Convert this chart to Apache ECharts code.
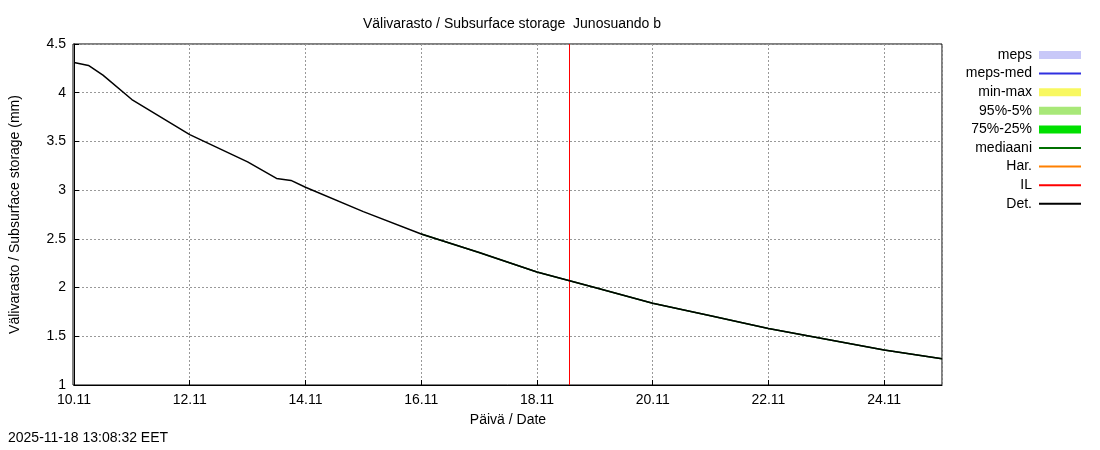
<!DOCTYPE html>
<html><head><meta charset="utf-8">
<script src="https://cdn.jsdelivr.net/npm/echarts@6/dist/echarts.min.js"></script>
<style>html,body{margin:0;background:#fff}#c{width:1100px;height:450px}</style>
</head><body><div id="c"></div>
<script>
const dates = ["2025-11-10 00:00","2025-11-10 06:00","2025-11-10 12:00","2025-11-11 00:00","2025-11-12 00:00","2025-11-13 00:00","2025-11-13 12:00","2025-11-13 18:00","2025-11-14 00:00","2025-11-15 00:00","2025-11-16 00:00","2025-11-17 00:00","2025-11-18 00:00","2025-11-19 00:00","2025-11-20 00:00","2025-11-21 00:00","2025-11-22 00:00","2025-11-23 00:00","2025-11-24 00:00","2025-11-25 00:00"];
const values = [4.31,4.28,4.18,3.93,3.57,3.29,3.12,3.10,3.03,2.78,2.55,2.36,2.16,2.00,1.84,1.71,1.58,1.47,1.36,1.27];
const medianDates = dates.slice(10);
const medianValues = values.slice(10);
const nowLine = "2025-11-18 13:08";
const xTickLabels = ["10.11","12.11","14.11","16.11","18.11","20.11","22.11","24.11"];
const yTicks = {min:1, max:4.5, interval:0.5};
const legendItems = [
 {name:'meps', color:'#c8c8f8', w:8},
 {name:'meps-med', color:'#3030e0', w:1.5},
 {name:'min-max', color:'#f8f860', w:8},
 {name:'95%-5%', color:'#a8e878', w:8},
 {name:'75%-25%', color:'#00e000', w:8},
 {name:'mediaani', color:'#007000', w:1.5},
 {name:'Har.', color:'#ff8000', w:1.5},
 {name:'IL', color:'#ff0000', w:1.5},
 {name:'Det.', color:'#000000', w:1.5}
];
function dayOffset(s){ // days since 2025-11-10 00:00
  const m = s.match(/\d+-\d+-(\d+) (\d+):(\d+)/);
  return (+m[1]-10) + (+m[2])/24 + (+m[3])/1440;
}
const ch = echarts.init(document.getElementById('c'));
const font = 'Liberation Sans';
const series = legendItems.map(it => ({name:it.name, type:'line', data:[], symbol:'none', lineStyle:{color:it.color,width:it.w}, itemStyle:{color:it.color}}));
series.find(s=>s.name==='mediaani').data = medianDates.map((d,i)=>[dayOffset(d),medianValues[i]]);
const det = series.find(s=>s.name==='Det.');
det.data = dates.map((d,i)=>[dayOffset(d),values[i]]);
det.z = 5;
det.markLine = {symbol:'none', silent:true, label:{show:false}, lineStyle:{color:'#ff0000',width:1,type:'solid'}, data:[{xAxis:dayOffset(nowLine)}]};
ch.setOption({
 animation:false,
 textStyle:{fontFamily:font},
 title:{text:'Välivarasto / Subsurface storage  Junosuando b', left:507, top:12, textAlign:'center', textStyle:{fontSize:14,fontWeight:'normal',fontFamily:font,color:'#000'}},
 grid:{left:73,right:158,top:44,bottom:65},
 legend:{orient:'vertical', right:14, top:43, itemGap:4.6, itemWidth:42, itemHeight:8, align:'right', textStyle:{fontSize:14,fontFamily:font,color:'#000', padding:[0,2,0,0]},
   data:legendItems.map(it=>({name:it.name, icon: it.w>2?'rect':'path://M0,0H42V2H0Z'}))},
 xAxis:{type:'value', min:0, max:15, interval:2,
   axisLine:{lineStyle:{color:'#000'}}, axisTick:{inside:true,lineStyle:{color:'#000'}},
   axisLabel:{fontSize:14,color:'#000',fontFamily:font, showMaxLabel:false, formatter:v=>xTickLabels[v/2]||''},
   splitLine:{show:true,lineStyle:{color:'#999',type:[2,2]}},
   name:'Päivä / Date', nameLocation:'middle', nameGap:28, nameTextStyle:{fontSize:14,color:'#000',fontFamily:font}},
 yAxis:{type:'value', min:yTicks.min, max:yTicks.max, interval:yTicks.interval,
   axisLine:{show:true,lineStyle:{color:'#000'}}, axisTick:{inside:true,lineStyle:{color:'#000'}},
   axisLabel:{fontSize:14,color:'#000',fontFamily:font, formatter:v=>String(v)},
   splitLine:{show:true,lineStyle:{color:'#999',type:[2,2]}},
   name:'Välivarasto / Subsurface storage (mm)', nameLocation:'middle', nameGap:52, nameTextStyle:{fontSize:14,color:'#000',fontFamily:font}},
 graphic:[
  {type:'rect', shape:{x:73,y:44,width:869,height:341}, style:{fill:'none',stroke:'#000',lineWidth:1}, silent:true},
  {type:'text', left:8, top:431, style:{text:'2025-11-18 13:08:32 EET', fontSize:14, fontFamily:font, fill:'#000'}}
 ],
 series:series
});
</script></body></html>
